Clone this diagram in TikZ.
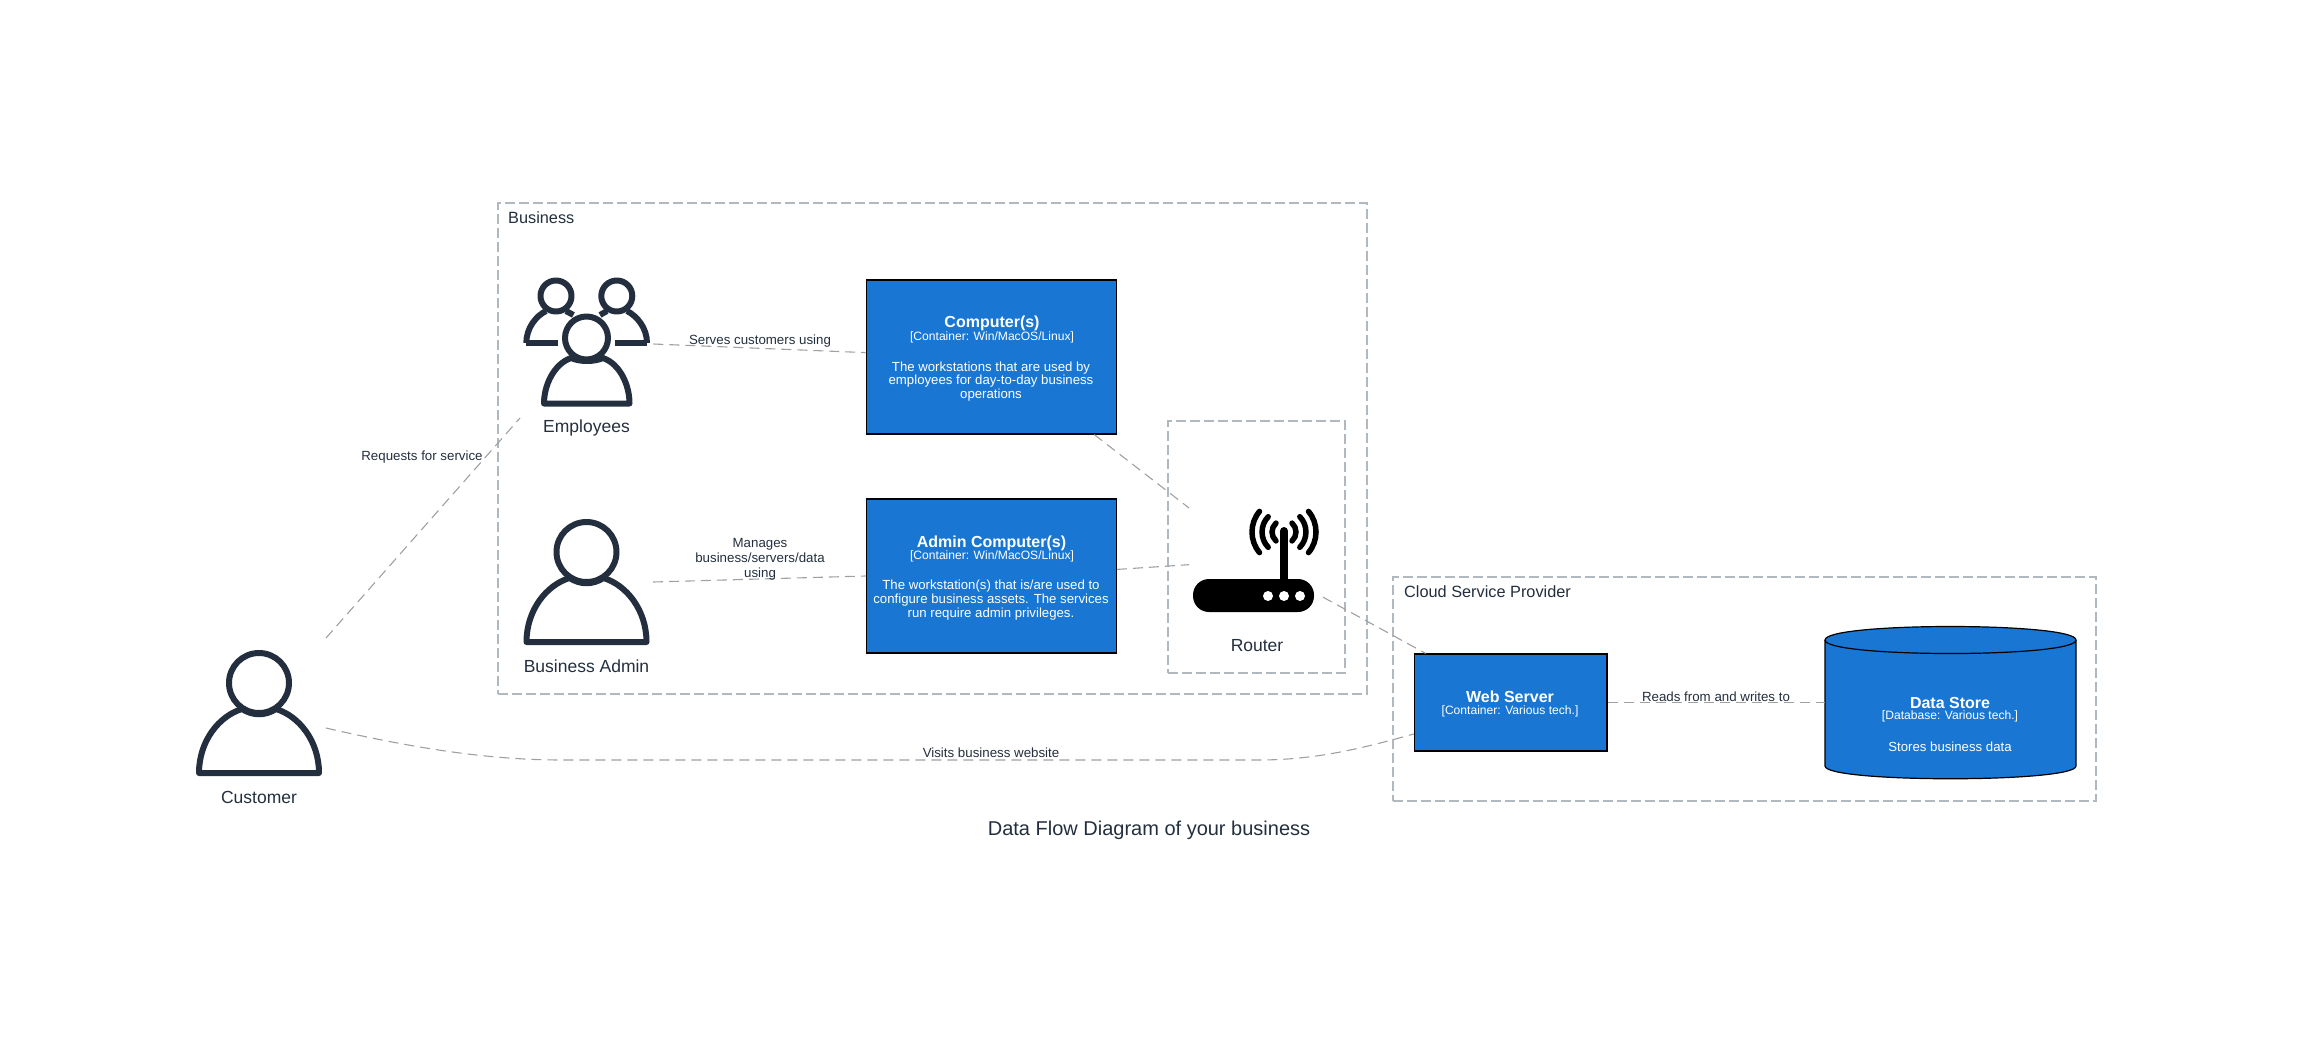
\documentclass[tikz,border=0pt]{standalone}
\usepackage{fontspec}
\setmainfont{Liberation Sans}
\usetikzlibrary{calc}
\definecolor{icon}{HTML}{232F3E}
\definecolor{boxblue}{HTML}{1976D2}
\definecolor{grp}{HTML}{B0B8C0}
\definecolor{edge}{HTML}{A0A0A0}
\newcommand{\fsz}[1]{\fontsize{#1}{#1}\selectfont}
\tikzset{
  x=1pt,y=-1pt,
  grpbox/.style={draw=grp,line width=1.1pt,dash pattern=on 10pt off 4pt},
  conn/.style={draw=edge,line width=1.1pt,dash pattern=on 10pt off 6pt},
  ctr/.style={draw=black,fill=boxblue,line width=1.2pt,minimum width=#1,inner sep=0pt},
  anchorbox/.style args={#1x#2}{minimum width=#1,minimum height=#2,inner sep=0pt,outer sep=0pt},
  ttl/.style={text=white,font=\bfseries\fsz{16},inner sep=0pt},
  sub/.style={text=white,font=\fsz{12.1},inner sep=0pt},
  bodytext/.style={text=white,align=center,inner sep=0pt,font=\fontsize{13.2}{13.6}\selectfont},
  lbl/.style={text=icon,inner sep=0pt,font=\fsz{17.5}},
  grplbl/.style={text=icon,inner sep=0pt,font=\fsz{16.3},anchor=west},
  elbl/.style={text=icon,inner sep=0pt,align=center,font=\fontsize{13.3}{15}\selectfont},
  iconline/.style={draw=icon,line width=6pt,line join=round},
  wave/.style={draw=black,line width=5.5pt,line cap=round},
}
% person icon: head centre at (#1,#2)
\newcommand{\person}[2]{%
  \draw[iconline,fill=white] (#1-60,#2+90) .. controls (#1-60,#2+58) and (#1-40,#2+33) .. (#1-17,#2+26)
     .. controls (#1-6,#2+33) and (#1+6,#2+33) .. (#1+17,#2+26)
     .. controls (#1+40,#2+33) and (#1+60,#2+58) .. (#1+60,#2+90) -- cycle;
  \draw[iconline] (#1,#2) circle[radius=30];
}
\begin{document}
\begin{tikzpicture}
\useasboundingbox (0,0) rectangle (2299,1036);
% groups
\node[grpbox,minimum width=869pt,minimum height=491pt,inner sep=0pt] (business) at (932.5,448.5) {};
\node[grpbox,minimum width=177pt,minimum height=252pt,inner sep=0pt] (routerbox) at (1256.5,547) {};
\node[grpbox,minimum width=703pt,minimum height=224pt,inner sep=0pt] (cloud) at (1744.5,689) {};
\node[grplbl] (businesslbl) at (508,218) {Business};
\node[grplbl] (cloudlbl) at (1404,592) {Cloud Service Provider};
% boxes
\node[ctr=250pt,minimum height=154pt] (comp) at (991.3,357) {};
\node[ttl] (compa) at (992,323) {Computer(s)};
\node[sub] (compb) at (992,337) {[Container: Win/MacOS/Linux]};
\node[bodytext] (compc) at (991,381.5) {The workstations that are used by\\employees for day-to-day business\\operations};
\node[ctr=250pt,minimum height=154pt] (admc) at (991.3,576) {};
\node[ttl] (admca) at (991.5,543) {Admin Computer(s)};
\node[sub] (admcb) at (992,556) {[Container: Win/MacOS/Linux]};
\node[bodytext] (admcc) at (991,600) {The workstation(s) that is/are used to\\configure business assets. The services\\run require admin privileges.};
\node[ctr=192.6pt,minimum height=97pt] (web) at (1510.7,702.5) {};
\node[ttl] (weba) at (1510,697) {Web Server};
\node[sub] (webb) at (1510,711) {[Container: Various tech.]};
% database
\node[anchorbox=251ptx153pt] (db) at (1950.5,702.5) {};
\draw[draw=black,fill=boxblue,line width=1.2pt] (1825,640) .. controls (1825,622) and (2076,622) .. (2076,640)
  -- (2076,766) .. controls (2076,783) and (1825,783) .. (1825,766) -- cycle;
\draw[draw=black,line width=1.2pt] (1825,640) .. controls (1825,658) and (2076,658) .. (2076,640);
\node[ttl] (dba) at (1950,702.5) {Data Store};
\node[sub] (dbb) at (1950,716) {[Database: Various tech.]};
\node[bodytext] (dbc) at (1950,746.5) {Stores business data};
% people
\person{259}{683}
\person{586.5}{552}
\begin{scope}
  \draw[iconline] (526.3,343) .. controls (526.3,328) and (536,316) .. (546,311);
  \draw[iconline] (526.3,343) -- (558,343);
  \draw[iconline] (566,311) -- (573.4,315);
  \draw[iconline] (556,296) circle[radius=15.5];
  \draw[iconline] (647,343) .. controls (647,328) and (637,316) .. (627,311);
  \draw[iconline] (647,343) -- (614.7,343);
  \draw[iconline] (607,311) -- (600,315);
  \draw[iconline] (616.8,296) circle[radius=15.5];
  \draw[iconline,fill=white] (544,403.5) .. controls (544,385) and (554,364) .. (571,358)
     .. controls (580,362) and (594,362) .. (603,358)
     .. controls (620,364) and (629.5,385) .. (629.5,403.5) -- cycle;
  \draw[iconline,fill=white] (586.5,338) circle[radius=21.5];
\end{scope}
\node[lbl] (custlbl) at (259,797) {Customer};
\node[lbl] (admlbl) at (586.5,666) {Business Admin};
\node[lbl] (emplbl) at (586.5,427.5) {Employees};
\node[lbl] (rtrlbl) at (1257,645.5) {Router};
% router icon
\fill[black,rounded corners=16pt] (1193,579) rectangle (1314,612);
\fill[black] (1280,531) rectangle (1288,580);
\fill[black] (1284,531) circle[radius=4];
\foreach \dx in {1268,1284,1300} \fill[white] (\dx,596) circle[radius=5];
\foreach \s in {-1,1} {
  \draw[wave] (1284+\s*24.5,511.4) .. controls (1284+\s*34.5,523.3) and (1284+\s*34.5,540.7) .. (1284+\s*24.5,552.6);
  \draw[wave] (1284+\s*15.8,516.7) .. controls (1284+\s*24,525.2) and (1284+\s*24,538.8) .. (1284+\s*15.8,547.3);
  \draw[wave] (1284+\s*8,523.1) .. controls (1284+\s*13.3,527.9) and (1284+\s*13.3,536.1) .. (1284+\s*8,540.9);
}
% invisible anchors for connectors
\node[anchorbox=133.4ptx74pt] (emp) at (586.7,381) {};
\node[anchorbox=133ptx10pt] (adm) at (586.5,582) {};
\node[anchorbox=133ptx90pt] (cust) at (259.5,683) {};
\node[anchorbox=134ptx104pt] (rtr) at (1256,560) {};
% connectors
\draw[conn] (emp.north east) -- (comp.178.2);
\draw[conn] (adm.east) -- (admc.180.9);
\draw[conn] (cust.north east) -- (emp.south west);
\draw[conn] (comp.-37.3) -- (rtr.north west);
\draw[conn] (admc.3.2) -- (rtr.184.3);
\draw[conn] (rtr.-29.56) -- (web.150.8);
\draw[conn] (web.east) -- (db.west);
\draw[conn] (cust.south east) .. controls (430,752) and (500,760) .. (563,760) -- (1259,760) .. controls (1320,760) and (1370,746) .. (web.198.65);
% edge labels
\node[elbl] (l1) at (760,341.5) {Serves customers using};
\node[elbl] (l2) at (760,559) {Manages\\business/servers/data\\using};
\node[elbl] (l3) at (422,457) {Requests for service};
\node[elbl] (l4) at (991,753) {Visits business website};
\node[elbl] (l5) at (1716,697) {Reads from and writes to};
\node[text=icon,inner sep=0pt,font=\fsz{20}] (title) at (1149,830.5) {Data Flow Diagram of your business};
\end{tikzpicture}
\end{document}
